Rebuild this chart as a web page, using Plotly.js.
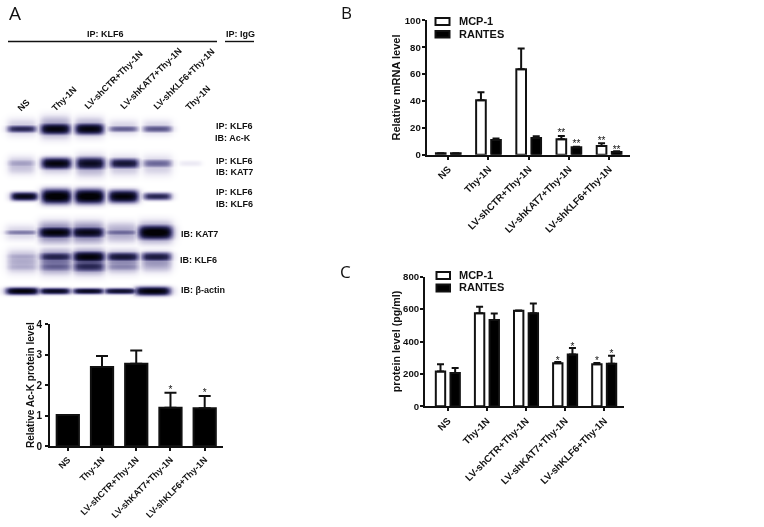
<!DOCTYPE html>
<html><head><meta charset="utf-8">
<script src="https://cdn.plot.ly/plotly-3.0.1.min.js"></script>
<style>html,body{margin:0;padding:0;background:#fff}#chart{width:764px;height:527px;filter:blur(0.4px)}</style>
</head><body><div id="chart"></div>
<script>
// ---------- data ----------
const groups = ["NS","Thy-1N","LV-shCTR+Thy-1N","LV-shKAT7+Thy-1N","LV-shKLF6+Thy-1N"];
const laneLabels = ["NS","Thy-1N","LV-shCTR+Thy-1N","LV-shKAT7+Thy-1N","LV-shKLF6+Thy-1N","Thy-1N"];
const seriesNames = ["MCP-1","RANTES"];

const acK = [1.02,2.6,2.7,1.26,1.24];
const acKErr = [0,0.36,0.44,0.49,0.40];
const acKStars = ["","","","*","*"];
const acKStarY = [0,0,0,1.82,1.72];

const mrnaMCP = [1,40.5,63.5,11.5,6.5];
const mrnaMCPErr = [0,6,15.5,2.5,2];
const mrnaRANTES = [1,11,12.5,5.5,2];
const mrnaRANTESErr = [0,1,1.3,0.5,0.5];
const mrnaMCPStars = ["","","","**","**"];
const mrnaRANTESStars = ["","","","**","**"];
const mrnaMCPStarY = [0,0,0,16,9.5];
const mrnaRANTESStarY = [0,0,0,7.5,3];

const protMCP = [215,575,590,265,260];
const protMCPErr = [45,40,2,8,8];
const protRANTES = [205,533,575,320,262];
const protRANTESErr = [32,40,60,40,50];
const protMCPStars = ["","","","*","*"];
const protRANTESStars = ["","","","*","*"];
const protMCPStarY = [0,0,0,278,274];
const protRANTESStarY = [0,0,0,365,320];

// blot band darkness, one array per blot layer, one value per lane
const blotAcK      = [0.85,1.08,1.08,0.65,0.68,0];
const blotAcKHaze  = [0.25,0.45,0.40,0.22,0.22,0];
const blotKAT7ip   = [0.42,1.08,1.02,0.95,0.62,0.12];
const blotKAT7ipHaze=[0.30,0.30,0.40,0.30,0.25,0];
const blotKLF6ip   = [1.05,1.15,1.15,1.10,0.85,0];
const blotKAT7     = [0.55,1.10,1.05,0.62,1.15,0];
const blotKAT7Haze = [0.22,0.58,0.58,0.40,0.52,0];
const blotKLF6     = [0.40,0.88,1.10,0.95,0.92,0];
const blotKLF6Low  = [0.38,0.66,0.85,0.52,0.36,0];
const blotKLF6Haze = [0.38,0.60,0.72,0.50,0.46,0];
const blotActin    = [1.10,1.02,1.02,0.98,1.10,0];

// ---------- page geometry ----------
const W=764,H=527;
const px=(a,b)=>[a/W,b/W], py=(top,bot)=>[1-bot/H,1-top/H];
const boldTxt=s=>"<b>"+s+"</b>";
const FONT="Liberation Sans, Arial, sans-serif";
const idx=[0,1,2,3,4];

// ---------- blot raster (built from the darkness tables) ----------
const lanes1=[21.5,55,89,123,157,190], lanes2=[21,56,90,124,157,190], lanes3=[24,56,89,123,157,190],
      lanes4=[21,55,87.5,121,155,190], lanes5=[22,55.5,88.5,122.5,156,190], lanes6=[22,54.5,88,120,152.5,190];
const wide1=[13.5,14,13.5,13.5,13.5,10], wide2=[12.5,14,13.5,13.5,13.5,10], wide3=[12.5,14,14,14,13,10],
      wide4=[14.5,15.5,15,14.5,16,10], wide5=[14,15,15,15,14,10], wide6=[15.5,14.5,14.5,15,16.5,10];
const blotLayers=[
 {d:blotAcK,cy:128.5,cx:lanes1,hw:wide1,hh:[3.5,5.5,5.5,3,3.3,3]},
 {d:blotAcKHaze,cy:127,cx:lanes1,hw:wide1,hh:[8,10,9,7,7,3]},
 {d:blotKAT7ip,cy:163,cx:lanes2,hw:wide2,hh:[4,5.5,6,4.8,4,2.5]},
 {d:blotKAT7ipHaze,cy:165,cx:lanes2,hw:wide2,hh:[8,8,10,9,9,3]},
 {d:blotKLF6ip,cy:196,cx:lanes3,hw:wide3,hh:[4,7,7,6,3.5,3]},
 {d:blotKAT7,cy:232,cx:lanes4,hw:wide4,hh:[2.5,5.5,5.5,3,7,3]},
 {d:blotKAT7Haze,cy:232,cx:lanes4,hw:wide4,hh:[7,10,10,9,10,3]},
 {d:blotKLF6,cy:256.5,cx:lanes5,hw:wide5,hh:[4,4.5,5.5,4.5,4.5,3]},
 {d:blotKLF6Low,cy:266,cx:lanes5,hw:wide5,hh:[4.5,5,5.5,4.5,3.5,3]},
 {d:blotKLF6Haze,cy:261,cx:lanes5,hw:wide5,hh:[10,11,11,10,9,3]},
 {d:blotActin,cy:290.7,cx:lanes6,hw:wide6,hh:[3.5,3,2.8,2.8,4.2,3]}
];
const falloffX=[1,1,0.98,0.92,0.62,0.18,0.04,0,0];
const falloffY=[1,0.97,0.88,0.72,0.5,0.28,0.12,0.04,0];
function look(t,d){const v=d*4>=8?8:d*4,i=Math.floor(v),f=v-i;return i>=8?t[8]:t[i]*(1-f)+t[i+1]*f;}
const blotX=[],blotY=[];
for(let x=0;x<=214;x+=2)blotX.push(x);
for(let y=108;y<=308;y+=1)blotY.push(y);
const blotZ=blotY.map(y=>blotX.map(x=>{let v=0;
  blotLayers.forEach(b=>b.d.forEach((amt,l)=>{
    const a=amt*look(falloffX,Math.abs(x-b.cx[l])/b.hw[l])*look(falloffY,Math.abs(y-b.cy)/b.hh[l]);
    if(a>v)v=a;}));
  return v;}));

// ---------- helpers ----------
function axisX(dom,range,anchor,size){return {domain:dom,range:range,anchor:anchor,tickmode:"array",tickvals:idx,ticktext:groups.map(boldTxt),tickangle:-45,
  tickfont:{family:FONT,size:size,color:"#111"},showline:true,linewidth:2,linecolor:"#111",ticks:"outside",ticklen:3,tickwidth:2,tickcolor:"#111",showgrid:false,zeroline:false,fixedrange:true};}
function axisY(dom,range,anchor,dtick,title,tsize,size,standoff,labelOff){return {domain:dom,range:range,anchor:anchor,dtick:dtick,title:{text:boldTxt(title),font:{family:FONT,size:tsize,color:"#111"},standoff:standoff},
  tickfont:{family:FONT,size:size,color:"#111"},tickprefix:"<b>",ticksuffix:"</b>",ticklabelstandoff:labelOff,showline:true,linewidth:2,linecolor:"#111",ticks:"outside",ticklen:3,tickwidth:2,tickcolor:"#111",showgrid:false,zeroline:false,fixedrange:true};}
const err=(a,cap)=>({type:"data",symmetric:false,array:a,arrayminus:a.map(()=>0),color:"#111",thickness:2,width:cap});
function bars(name,y,e,xa,ya,dx,w,fill,cap){return {type:"bar",name:name,x:idx,y:y,xaxis:xa,yaxis:ya,width:w,offset:dx-w/2,marker:{color:fill,line:{color:"#111",width:2}},error_y:err(e,cap),showlegend:false,hoverinfo:"skip"};}
function stars(txt,ys,xa,ya,dx,size){return {type:"scatter",mode:"text",x:idx.map(i=>i+dx),y:ys,text:txt,textposition:"middle center",textfont:{family:FONT,size:size,color:"#111"},xaxis:xa,yaxis:ya,showlegend:false,hoverinfo:"skip",cliponaxis:false};}

const traces=[
 {type:"heatmap",x:blotX,y:blotY,z:blotZ,xaxis:"x4",yaxis:"y4",zmin:0,zmax:1.1,zsmooth:"best",showscale:false,hoverinfo:"skip",
  colorscale:[[0,"#ffffff"],[0.1,"#eeecf5"],[0.3,"#bcb8d4"],[0.55,"#6f6b9c"],[0.75,"#2c2a58"],[0.9,"#0e0e28"],[1,"#020206"]]},
 bars("Ac-K",acK,acKErr,"x","y",0,0.65,"#000",6),
 stars(acKStars,acKStarY,"x","y",0,10),
 bars(seriesNames[0],mrnaMCP,mrnaMCPErr,"x2","y2",-0.1875,0.24,"#fff",3.5),
 bars(seriesNames[1],mrnaRANTES,mrnaRANTESErr,"x2","y2",0.1875,0.24,"#000",3.5),
 stars(mrnaMCPStars,mrnaMCPStarY,"x2","y2",-0.1875,10),
 stars(mrnaRANTESStars,mrnaRANTESStarY,"x2","y2",0.1875,10),
 bars(seriesNames[0],protMCP,protMCPErr,"x3","y3",-0.1875,0.24,"#fff",3.5),
 bars(seriesNames[1],protRANTES,protRANTESErr,"x3","y3",0.1875,0.24,"#000",3.5),
 stars(protMCPStars,protMCPStarY,"x3","y3",-0.1875,10),
 stars(protRANTESStars,protRANTESStarY,"x3","y3",0.1875,10)
];

function note(text,x,y,size,extra){return Object.assign({text:boldTxt(text),xref:"paper",yref:"paper",x:x/W,y:1-y/H,xanchor:"center",yanchor:"middle",showarrow:false,font:{family:FONT,size:size,color:"#111"}},extra||{});}
function plain(text,x,y,size){return {text:text,xref:"paper",yref:"paper",x:x/W,y:1-y/H,xanchor:"center",yanchor:"middle",showarrow:false,font:{family:"Open Sans, sans-serif",size:size,color:"#111"}};}
function rule(x0,x1,y){return {type:"line",xref:"paper",yref:"paper",x0:x0/W,x1:x1/W,y0:1-y/H,y1:1-y/H,line:{color:"#111",width:1.4}};}
function swatch(x0,x1,y0,y1,fill){return {type:"rect",xref:"paper",yref:"paper",x0:x0/W,x1:x1/W,y0:1-y0/H,y1:1-y1/H,fillcolor:fill,line:{color:"#111",width:2}};}
const laneLabelPos=[[23.7,104.7],[64,99],[113.8,80.4],[150.5,79],[184,79],[198,98.3]];
const annotations=[
 plain("A",15,13,19),plain("B",346,12,17),plain("C",345,271,17),
 note("IP: KLF6",105,34.5,9),note("IP: IgG",240,34,9),
 note("IP: KLF6",234,125.5,9),note("IB: Ac-K",233,137.5,9),
 note("IP: KLF6",234.5,160.5,9),note("IB: KAT7",234.5,172,9),
 note("IP: KLF6",234.5,192.5,9),note("IB: KLF6",234.5,204,9),
 note("IB: KAT7",199,233.5,9),note("IB: KLF6",198.7,260,9),note("IB: β-actin",202.5,289.5,9)
];
laneLabels.forEach((t,i)=>annotations.push(note(t,laneLabelPos[i][0],laneLabelPos[i][1],9,{textangle:-45})));
[[seriesNames[0],21],[seriesNames[1],33.7]].forEach(a=>annotations.push(note(a[0],456.5,a[1],11,{xanchor:"left"})));
[[seriesNames[0],275],[seriesNames[1],287.3]].forEach(a=>annotations.push(note(a[0],456.5,a[1],11,{xanchor:"left"})));

const shapes=[rule(8,217,41.5),rule(225,254,41.5),
 swatch(435.5,449.5,18,25,"#fff"),swatch(435.5,449.5,31,37.5,"#000"),
 swatch(436.5,450,272,279,"#fff"),swatch(436.5,450,284.5,291.5,"#000")];

const layout={width:W,height:H,margin:{l:0,r:0,t:0,b:0},paper_bgcolor:"#fff",plot_bgcolor:"rgba(0,0,0,0)",showlegend:false,barmode:"overlay",
 font:{family:FONT,color:"#111"},annotations:annotations,shapes:shapes,
 xaxis:axisX(px(50,223),[-0.52,4.535],"y",9),
 yaxis:axisY(py(324.3,446),[0,4],"x",1,"Relative Ac-K protein level",10,10,0,1),
 xaxis2:axisX(px(426.7,630),[-0.537,4.52],"y2",9.8),
 yaxis2:axisY(py(20.3,154.7),[0,100],"x2",20,"Relative mRNA level",11,9.6,2,-1),
 xaxis3:axisX(px(425,624.3),[-0.584,4.514],"y3",9.8),
 yaxis3:axisY(py(276.7,406.3),[0,800],"x3",200,"protein level (pg/ml)",10.7,9.6,0,-1),
 xaxis4:{domain:px(0,214),range:[0,214],anchor:"y4",visible:false,fixedrange:true},
 yaxis4:{domain:py(108,308),range:[308,108],anchor:"x4",visible:false,fixedrange:true}
};
Plotly.newPlot("chart",traces,layout,{staticPlot:true,displayModeBar:false});
</script></body></html>
